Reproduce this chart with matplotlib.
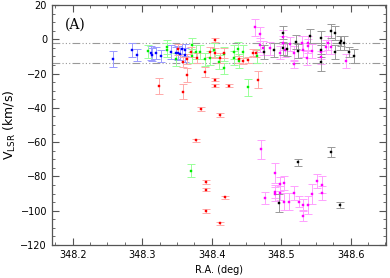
import matplotlib
matplotlib.use("Agg")
import matplotlib.pyplot as plt
from matplotlib.ticker import MultipleLocator

# blue
blue_ra = [348.258, 348.285, 348.292, 348.313, 348.314, 348.320, 348.327, 348.342,
           348.348, 348.352, 348.357, 348.361, 348.362, 348.354]
blue_v = [-11.6, -6.1, -9.0, -8.0, -8.9, -7.8, -9.6, -7.4, -8.2, -8.2, -5.6, -6.4, -9.0, -8.6]
blue_err = [4.5, 4, 3.5, 4, 4, 3.5, 3.5, 4, 3.5, 4, 3, 3.5, 4, 3.5]

# green
green_ra = [348.308, 348.335, 348.335, 348.349, 348.371, 348.371, 348.377, 348.383,
            348.391, 348.398, 348.404, 348.410, 348.418, 348.418, 348.432, 348.432,
            348.438, 348.439, 348.445, 348.452, 348.465, 348.370]
green_v = [-7.1, -4.5, -6.1, -11.8, -3.5, -9.8, -7.6, -7.6, -11.8, -10.9, -6.1, -13.2,
           -8.4, -17.0, -7.6, -10.9, -5.7, -12.7, -7.2, -28.0, -9.8, -76.6]
green_err = [4, 4, 4, 4, 4, 4, 4, 4, 4, 4, 4, 4, 4, 3, 4, 4, 4, 4, 4, 5, 4, 4]

# red
red_ra = [348.352, 348.358, 348.365, 348.370, 348.379, 348.398, 348.405, 348.405,
          348.412, 348.418, 348.440, 348.445, 348.452, 348.459, 348.464,
          348.324, 348.358, 348.364, 348.391, 348.405, 348.405, 348.425, 348.466,
          348.385, 348.412, 348.378, 348.392, 348.392, 348.419, 348.392, 348.412]
red_v = [-5.9, -13.1, -11.3, -7.3, -11.1, -7.4, -0.5, -8.2, -10.8, -7.8, -11.7, -12.7,
         -12.1, -7.8, -8.2,
         -27.3, -30.6, -21.0, -19.3, -23.5, -27.0, -27.0, -23.5,
         -40.7, -44.3, -59.0, -83.2, -87.7, -92.2, -100.2, -107.4]
red_err = [3, 3, 3, 3, 3, 3, 1, 3, 3, 3, 2, 2, 2, 2, 2,
           4.5, 4.5, 4, 3, 1, 1, 1, 5,
           1, 1, 1, 1, 1, 1, 1, 1]

# magenta
mag_ra = [348.463, 348.470, 348.470, 348.474, 348.484, 348.503, 348.503, 348.505,
          348.513, 348.499, 348.518, 348.518, 348.530, 348.531, 348.539, 348.539,
          348.537, 348.544, 348.557, 348.558, 348.565, 348.567, 348.572, 348.593,
          348.471, 348.477, 348.491, 348.491, 348.491, 348.498, 348.498, 348.504,
          348.504, 348.511, 348.519, 348.525, 348.532, 348.532, 348.539, 348.545,
          348.552, 348.559, 348.559]
mag_v = [7.0, 2.9, -3.3, -4.9, -5.3, 1.5, -2.3, -6.3, -2.9, -7.8, -8.2, -14.6, -2.3,
         -6.3, -2.0, -4.0, -10.8, -6.9, -10.6, -7.3, -4.3, -2.0, -4.3, -12.7,
         -64.3, -92.8, -78.1, -88.9, -90.2, -84.4, -89.6, -84.0, -94.7, -94.7, -89.6,
         -94.7, -96.7, -102.9, -96.7, -90.2, -82.8, -84.8, -89.6]
mag_err = [5, 4, 4, 4, 4, 4, 4, 4, 4, 4, 4, 2, 4, 4, 4, 4, 4, 4, 4, 4, 4, 4, 4, 4,
           5.3, 3.5, 6, 4, 4, 4, 4, 4, 5, 5, 4, 3, 3.5, 3, 5, 6, 4, 5, 4]

# black
blk_ra = [348.476, 348.489, 348.502, 348.502, 348.509, 348.522, 348.524, 348.542,
          348.557, 348.558, 348.558, 348.571, 348.578, 348.578, 348.584, 348.586,
          348.591, 348.598, 348.605, 348.497, 348.524, 348.571, 348.585]
blk_v = [-7.3, -6.3, 3.9, -5.3, -5.9, -1.4, -6.9, 1.9, 0.9, -6.3, -13.5, 4.9, 3.5,
         -7.3, -2.0, -1.0, -2.3, -7.3, -9.8, -95.5, -71.7, -65.6, -96.7]
blk_err = [4, 4, 4, 4, 4, 4, 4, 4, 4, 4, 5, 4, 4, 4, 4, 3, 4, 3, 4, 5, 2, 3, 2]

groups = [
    (blue_ra, blue_v, blue_err, "#0000ff", "#9999ff"),
    (green_ra, green_v, green_err, "#00ee00", "#99ff99"),
    (red_ra, red_v, red_err, "#ff0000", "#ffaaaa"),
    (mag_ra, mag_v, mag_err, "#ff00ff", "#ffa0ff"),
    (blk_ra, blk_v, blk_err, "#000000", "#999999"),
]

fig = plt.figure(figsize=(3.9, 2.78), dpi=100)
ax = fig.add_axes([0.133, 0.119, 0.857, 0.863])

for ra, v, err, c, ec in groups:
    ax.errorbar(ra, v, yerr=err, fmt="none", ecolor=ec,
                elinewidth=0.7, capsize=2.8, capthick=0.7, zorder=2)
for ra, v, err, c, ec in groups:
    ax.plot(ra, v, "s", ms=1.8, mfc=c, mec=c, mew=0.3, ls="none", zorder=3)

for y in [-2, -14]:
    ax.axhline(y, color="#999999", lw=0.8, dashes=(7, 2, 1, 2, 1, 2, 1, 2), zorder=0)

ax.set_xlim(348.17, 348.651)
ax.set_ylim(-120, 20)
ax.xaxis.set_major_locator(MultipleLocator(0.1))
ax.xaxis.set_minor_locator(MultipleLocator(0.025))
ax.yaxis.set_major_locator(MultipleLocator(20))
ax.yaxis.set_minor_locator(MultipleLocator(5))
ax.xaxis.set_major_formatter(plt.FuncFormatter(lambda x, p: "%.1f" % x))
ax.yaxis.set_major_formatter(plt.FuncFormatter(lambda y, p: "%d" % y if y >= 0 else "\u2212%d" % -y))
ax.tick_params(which="both", direction="in", top=True, right=True, labelsize=7,
               color="#555555")
ax.tick_params(which="major", length=5, width=0.8)
ax.tick_params(which="minor", length=2.5, width=0.6)
ax.tick_params(axis="x", pad=4)
for s in ax.spines.values():
    s.set_color("#555555")
    s.set_linewidth(0.9)

ax.text(0.04, 0.9, "(A)", transform=ax.transAxes, family="DejaVu Serif", fontsize=10)
ax.set_xlabel("R.A. (deg)", fontsize=7, labelpad=3)
ax.set_ylabel("V$_{\\rm LSR}$ (km/s)", fontsize=9, labelpad=2)

fig.savefig("out.png", dpi=100)
